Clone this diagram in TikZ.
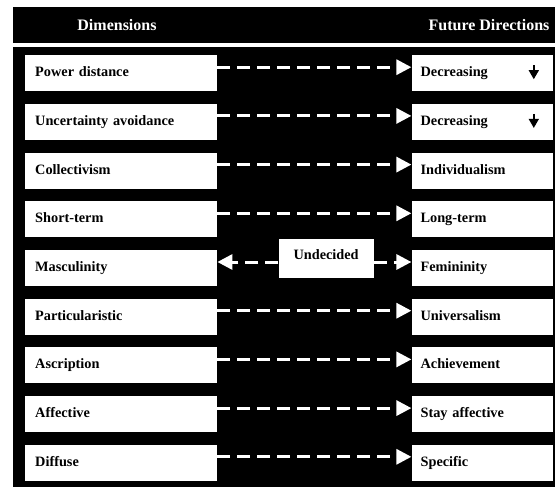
\documentclass[tikz,border=0pt]{standalone}
\usepackage{fontspec}
\setmainfont{Liberation Serif}
\usetikzlibrary{positioning,arrows.meta}

\begin{document}
\begin{tikzpicture}[x=1pt,y=-1pt,node distance=12.3pt,font=\fontsize{14.3}{17}\selectfont\bfseries]
    \tikzstyle{dim}=[rectangle,fill=white,text width=172pt,minimum height=36pt,align=left,inner xsep=10pt,text height=11pt,text depth=4pt]
    \tikzstyle{fut}=[rectangle,fill=white,text width=123pt,minimum height=36pt,align=left,inner xsep=9pt,text height=11pt,text depth=4pt]
    \tikzstyle{head}=[inner sep=0,text=white,font=\fontsize{16}{18}\selectfont\bfseries]
    \tikzstyle{link}=[white,line width=3pt,dash pattern=on 13pt off 7pt,-{Triangle[length=15pt,width=15pt]}]
    \tikzstyle{down}=[line width=1.5pt,-{Triangle[length=9pt,width=10pt]}]
    % background and black panels
    \fill[white] (0,0) rectangle (555,487) ;
    \useasboundingbox (0,0) rectangle (555,487) ;
    \fill[black] (13,7) rectangle (555,43) ;
    \fill[black] (13,47) rectangle (555,487) ;
    \node[head] (dimh) at (117,25) {Dimensions} ;
    \node[head] (futh) at (489,25) {Future Directions} ;
    % dimensions
    \node[dim,anchor=north west] (l1) at (25,55) {Power distance} ;
    \node[dim] (l2) [below =of l1] {Uncertainty avoidance} ;
    \node[dim] (l3) [below =of l2] {Collectivism} ;
    \node[dim] (l4) [below =of l3] {Short-term} ;
    \node[dim] (l5) [below =of l4] {Masculinity} ;
    \node[dim] (l6) [below =of l5] {Particularistic} ;
    \node[dim] (l7) [below =of l6] {Ascription} ;
    \node[dim] (l8) [below =of l7] {Affective} ;
    \node[dim] (l9) [below =of l8] {Diffuse} ;
    % future directions
    \node[fut] (r1) [right =194pt of l1] {Decreasing} ;
    \node[fut] (r2) [right =194pt of l2] {Decreasing} ;
    \node[fut] (r3) [right =194pt of l3] {Individualism} ;
    \node[fut] (r4) [right =194pt of l4] {Long-term} ;
    \node[fut] (r5) [right =194pt of l5] {Femininity} ;
    \node[fut] (r6) [right =194pt of l6] {Universalism} ;
    \node[fut] (r7) [right =194pt of l7] {Achievement} ;
    \node[fut] (r8) [right =194pt of l8] {Stay affective} ;
    \node[fut] (r9) [right =194pt of l9] {Specific} ;
    \node[rectangle,fill=white,minimum width=95pt,inner ysep=6pt,text height=15pt,text depth=12pt] (undec) [right =61pt of l5,yshift=10pt] {Undecided} ;
    \coordinate (m5) at ([yshift=6pt]l5.east) ;
    % arrows
    \draw[link] ([yshift=6pt]l1.east) -- ([yshift=6pt]r1.west) ;
    \draw[link] ([yshift=6pt]l2.east) -- ([yshift=6pt]r2.west) ;
    \draw[link] ([yshift=6pt]l3.east) -- ([yshift=6pt]r3.west) ;
    \draw[link] ([yshift=6pt]l4.east) -- ([yshift=6pt]r4.west) ;
    \draw[link] (m5 -| undec.west) -- (m5) ;
    \draw[link] (m5 -| undec.east) -- (m5 -| r5.west) ;
    \draw[link] ([yshift=6pt]l6.east) -- ([yshift=6pt]r6.west) ;
    \draw[link] ([yshift=6pt]l7.east) -- ([yshift=6pt]r7.west) ;
    \draw[link] ([yshift=6pt]l8.east) -- ([yshift=6pt]r8.west) ;
    \draw[link] ([yshift=6pt]l9.east) -- ([yshift=6pt]r9.west) ;
    \draw[down] ([xshift=-19pt,yshift=8pt]r1.east) -- ([xshift=-19pt,yshift=-6pt]r1.east) ;
    \draw[down] ([xshift=-19pt,yshift=8pt]r2.east) -- ([xshift=-19pt,yshift=-6pt]r2.east) ;
\end{tikzpicture}
\end{document}
